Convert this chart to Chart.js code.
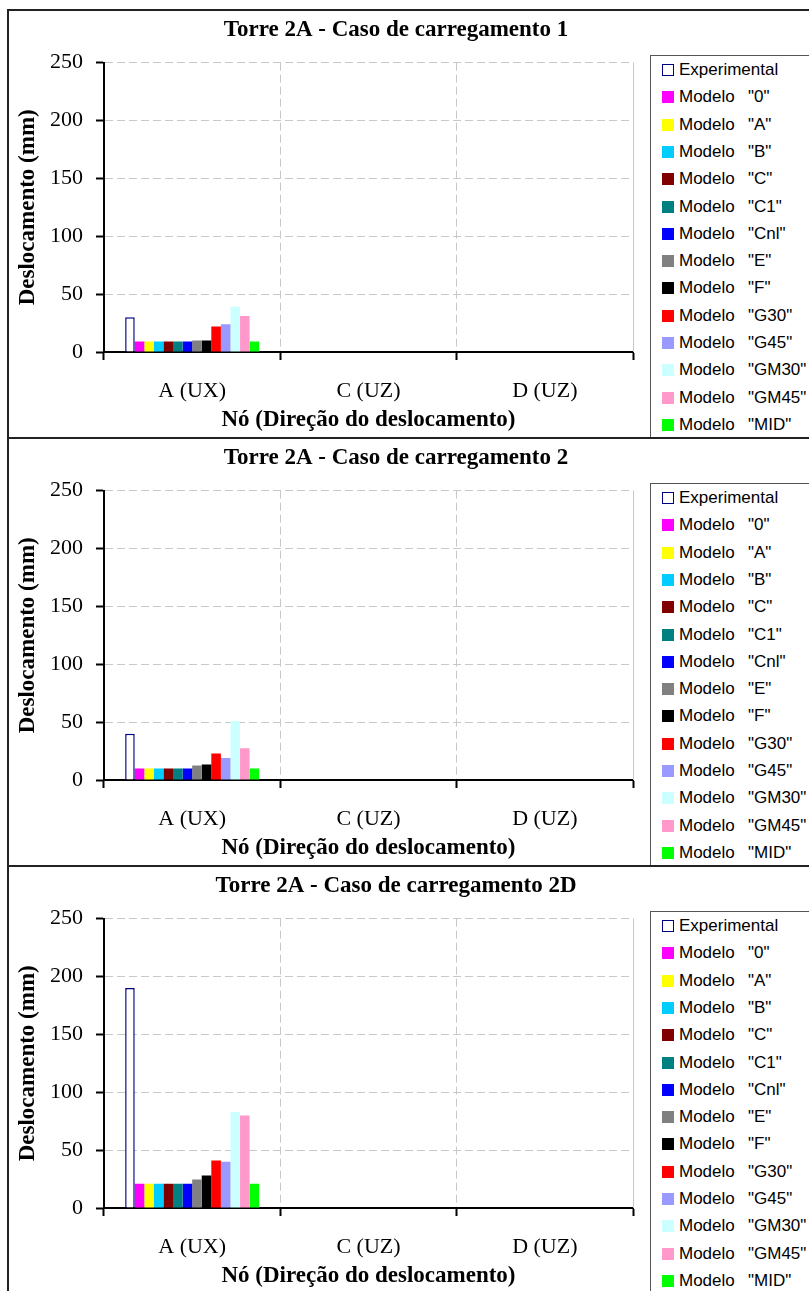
<!DOCTYPE html>
<html>
<head>
<meta charset="utf-8">
<script src="https://cdn.jsdelivr.net/npm/chart.js@4"></script>
<style>
  body { margin: 0; width: 809px; height: 1291px; overflow: hidden; background: #fff; position: relative; }
  .panel { position: absolute; left: 7px; width: 900px; height: 432px; border-left: 2px solid #222; border-top: 2px solid #222; background: #fff; }
  .panel canvas { position: absolute; left: 0; top: 0; }
  .legend { position: absolute; left: 641px; top: 44px; width: 300px; height: 400px; border-left: 1px solid #555; border-top: 1px solid #555; background: #fff;
            font-family: "Liberation Sans", Arial, sans-serif; font-size: 17px; color: #000; }
  .row { position: absolute; left: 0; width: 300px; height: 20px; line-height: 20px; white-space: nowrap; }
  .mark { position: absolute; left: 11px; top: 4px; width: 12px; height: 12px; box-sizing: border-box; }
  .txt { position: absolute; left: 28px; }
  .lab { position: absolute; left: 97px; }
</style>
</head>
<body>
<script>
// categories and series
const categories = ['A (UX)', 'C (UZ)', 'D (UZ)'];
const modelNames = ['0', 'A', 'B', 'C', 'C1', 'Cnl', 'E', 'F', 'G30', 'G45', 'GM30', 'GM45', 'MID'];
const modelColors = ['#FF00FF', '#FFFF00', '#00CCFF', '#800000', '#008080', '#0000FF', '#808080',
                     '#000000', '#FF0000', '#9999FF', '#CCFFFF', '#FF99CC', '#00FF00'];
const caseTitles = ['Torre 2A - Caso de carregamento 1', 'Torre 2A - Caso de carregamento 2', 'Torre 2A - Caso de carregamento 2D'];

// values at node A (UX); nodes C and D have no bars
const experimental1 = [30, null, null];
const models1 = [9, 9, 9, 9, 9, 9, 10, 10, 22, 24, 39, 31, 9];
const experimental2 = [40, null, null];
const models2 = [10, 10, 10, 10, 10, 10, 12.5, 13.3, 23, 19, 51, 27.5, 10];
const experimental3 = [190, null, null];
const models3 = [21, 21, 21, 21, 21, 21, 24.6, 28, 41, 40, 83, 80, 21];

const yMin = 0;
const yMax = 250;
const yStep = 50;

const serif = '"Liberation Serif", "Times New Roman", serif';
const gridColor = '#c8c8c8';

// solid light right edge of the plot area
const plotFrame = {
  id: 'plotFrame',
  beforeDatasetsDraw(chart) {
    const { ctx, chartArea: a } = chart;
    ctx.save();
    ctx.strokeStyle = gridColor;
    ctx.lineWidth = 1;
    ctx.beginPath();
    ctx.moveTo(Math.round(a.right) + 0.5, a.top);
    ctx.lineTo(Math.round(a.right) + 0.5, a.bottom);
    ctx.stroke();
    ctx.restore();
  }
};

function buildLegend(panel) {
  const box = document.createElement('div');
  box.className = 'legend';
  const names = ['Experimental'].concat(modelNames);
  names.forEach((name, k) => {
    const row = document.createElement('div');
    row.className = 'row';
    row.style.top = (14 + 27.3 * k - 10) + 'px';
    const mark = document.createElement('div');
    mark.className = 'mark';
    if (k === 0) {
      mark.style.background = '#fff';
      mark.style.border = '1.5px solid #000080';
      row.innerHTML = '<span class="txt">Experimental</span>';
    } else {
      mark.style.background = modelColors[k - 1];
      row.innerHTML = '<span class="txt">Modelo</span><span class="lab">"' + name + '"</span>';
    }
    row.prepend(mark);
    box.appendChild(row);
  });
  panel.appendChild(box);
}

function makeChart(i, title, experimental, models) {
  const panel = document.createElement('div');
  panel.className = 'panel';
  panel.style.top = (9 + 428 * i) + 'px';
  const canvas = document.createElement('canvas');
  canvas.width = 774;
  canvas.height = 426;
  panel.appendChild(canvas);
  document.body.appendChild(panel);
  buildLegend(panel);

  const datasets = [{
    label: 'Experimental',
    data: experimental,
    backgroundColor: '#ffffff',
    borderColor: '#000080',
    borderWidth: 1.5
  }];
  modelNames.forEach((name, k) => {
    datasets.push({
      label: 'Modelo "' + name + '"',
      data: [models[k], null, null],
      backgroundColor: modelColors[k],
      borderWidth: 0
    });
  });

  new Chart(canvas.getContext('2d'), {
    type: 'bar',
    data: { labels: categories, datasets: datasets },
    options: {
      responsive: false,
      animation: false,
      devicePixelRatio: 1,
      layout: { padding: 0 },
      datasets: { bar: { barPercentage: 1, categoryPercentage: 0.76 } },
      plugins: {
        legend: { display: false },
        tooltip: { enabled: false },
        title: {
          display: true,
          text: title,
          color: '#000',
          font: { family: serif, size: 23, weight: 'bold', lineHeight: 1.2 },
          padding: { top: 5, bottom: 19 }
        }
      },
      scales: {
        x: {
          grid: { color: gridColor, lineWidth: 1, offset: true, tickColor: '#000', tickLength: 8, tickWidth: 2 },
          border: { color: '#000', width: 2, dash: [8, 4] },
          ticks: { color: '#000', font: { family: serif, size: 22 }, padding: 18, maxRotation: 0 },
          title: {
            display: true,
            text: 'Nó (Direção do deslocamento)',
            color: '#000',
            font: { family: serif, size: 23, weight: 'bold', lineHeight: 1.2 },
            padding: { top: 0, bottom: 3 }
          },
          afterFit: s => { s.height = 85; }
        },
        y: {
          min: yMin,
          max: yMax,
          grid: { color: gridColor, lineWidth: 1, tickColor: '#000', tickLength: 8, tickWidth: 2 },
          border: { color: '#000', width: 2, dash: [8, 4] },
          ticks: { stepSize: yStep, color: '#000', font: { family: serif, size: 22 }, padding: 13 },
          title: {
            display: true,
            text: 'Deslocamento (mm)',
            color: '#000',
            font: { family: serif, size: 23, weight: 'bold', lineHeight: 1.2 },
            padding: { top: 5, bottom: 0 }
          },
          afterFit: s => { s.width = 95; }
        },
        spacer: {
          type: 'linear',
          position: 'right',
          display: true,
          grid: { display: false },
          border: { display: false },
          ticks: { display: false },
          afterFit: s => { s.width = 150; }
        }
      }
    },
    plugins: [plotFrame]
  });
}

makeChart(0, caseTitles[0], experimental1, models1);
makeChart(1, caseTitles[1], experimental2, models2);
makeChart(2, caseTitles[2], experimental3, models3);
</script>
</body>
</html>
